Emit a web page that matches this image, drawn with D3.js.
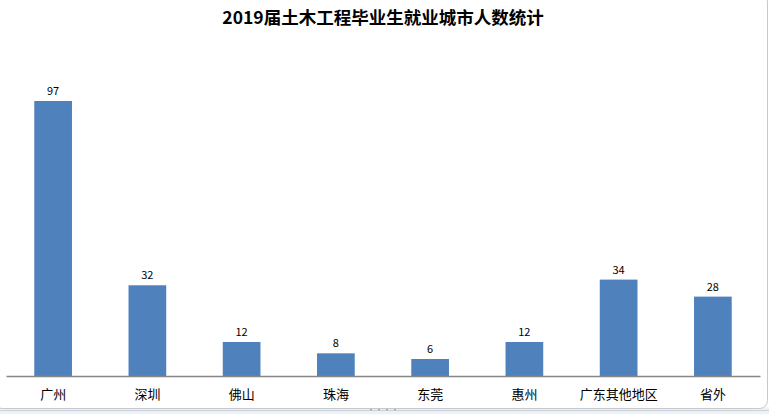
<!DOCTYPE html>
<html>
<head>
<meta charset="utf-8">
<script src="https://cdn.jsdelivr.net/npm/d3@7/dist/d3.min.js"></script>
<style>
  html, body { margin: 0; padding: 0; background: #ffffff; }
  svg { display: block; }
</style>
</head>
<body>
<svg id="chart" width="769" height="414"></svg>
<script>
// Graduates' employment city counts
const categories = ["广州", "深圳", "佛山", "珠海", "东莞", "惠州", "广东其他地区", "省外"];
const counts = [97, 32, 12, 8, 6, 12, 34, 28];
const title = "2019届土木工程毕业生就业城市人数统计";

const W = 769, H = 414;
const svg = d3.select("#chart");
const font = "'Noto Sans CJK SC', 'Microsoft YaHei', sans-serif";

// Window strip below the chart frame
svg.append("rect").attr("x", 0).attr("y", 407).attr("width", W).attr("height", 7).attr("fill", "#eef2f6");
svg.append("line").attr("x1", 0).attr("x2", W).attr("y1", 410.5).attr("y2", 410.5).attr("stroke", "#c9d3de");
svg.append("text").attr("x", 383).attr("y", 413).attr("text-anchor", "middle")
  .attr("font-size", 8).attr("fill", "#8a96a3").attr("font-family", font).text("····");

// Chart frame
svg.append("rect").attr("x", -6).attr("y", -6).attr("width", W - 1.5 + 6).attr("height", 414.5)
  .attr("rx", 8).attr("fill", "#ffffff").attr("stroke", "#c8c8c8").attr("stroke-width", 1);

// Title
svg.append("text").attr("x", 383).attr("y", 24).attr("text-anchor", "middle")
  .attr("font-family", font).attr("font-weight", "bold").attr("font-size", 17.5)
  .attr("fill", "#000").text(title);

// Scales
const x = d3.scaleBand().domain(categories).range([6, 760]).paddingInner(0.6).paddingOuter(0.3);
const y = d3.scaleLinear().domain([0, 100]).range([376, 92.5]);

const data = categories.map((c, i) => ({ c, v: counts[i] }));

// Bars
svg.append("g").selectAll("rect").data(data).join("rect")
  .attr("x", d => x(d.c))
  .attr("y", d => y(d.v))
  .attr("width", x.bandwidth())
  .attr("height", d => y(0) - y(d.v))
  .attr("fill", "#4f81bd");

// Value labels
svg.append("g").selectAll("text").data(data).join("text")
  .attr("x", d => x(d.c) + x.bandwidth() / 2)
  .attr("y", d => y(d.v) - 6)
  .attr("text-anchor", "middle")
  .attr("font-family", font).attr("font-size", 11).attr("fill", "#000")
  .text(d => d.v);

// Category axis
const xAxis = d3.axisBottom(x).tickSize(0).tickPadding(14);
const gx = svg.append("g").attr("transform", `translate(0,${y(0)})`).call(xAxis);
gx.select(".domain").attr("stroke", "#868686").attr("stroke-width", 1.3);
gx.selectAll("text").attr("font-family", font).attr("font-size", 13).attr("fill", "#000");
</script>
</body>
</html>
